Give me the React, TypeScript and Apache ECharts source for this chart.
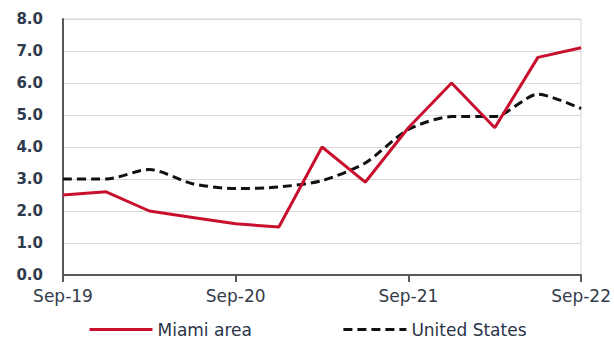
import React, { useEffect, useRef } from "react";
import * as echarts from "echarts";

// Quarterly observations, Sep-19 through Sep-22
const quarters = [
  "Sep-19", "Dec-19", "Mar-20", "Jun-20", "Sep-20", "Dec-20", "Mar-21",
  "Jun-21", "Sep-21", "Dec-21", "Mar-22", "Jun-22", "Sep-22",
];
const miami = [2.5, 2.6, 2.0, 1.8, 1.6, 1.5, 4.0, 2.9, 4.6, 6.0, 4.6, 6.8, 7.1];
const unitedStates = [3.0, 3.0, 3.3, 2.85, 2.7, 2.75, 2.95, 3.5, 4.55, 4.95, 4.95, 5.65, 5.2];
const yTicks = { min: 0, max: 8, step: 1 };

const FONT = "'DejaVu Sans', sans-serif";

export default function App() {
  const ref = useRef<HTMLDivElement>(null);

  useEffect(() => {
    if (!ref.current) return;
    const chart = echarts.init(ref.current, undefined, { renderer: "svg" });
    chart.setOption({
      animation: false,
      backgroundColor: "#ffffff",
      textStyle: { fontFamily: FONT },
      grid: { left: 63, right: 31, top: 19, bottom: 63, show: true, borderColor: "#d9d9d9", borderWidth: 1 },
      legend: {
        top: 321,
        left: 88,
        itemWidth: 63,
        itemHeight: 14,
        itemGap: 90,
        padding: 0,
        itemStyle: { opacity: 0 },
        lineStyle: { width: 3 },
        textStyle: { fontFamily: FONT, fontSize: 17, color: "#2a3447" },
        data: ["Miami area", "United States"],
      },
      xAxis: {
        type: "category",
        data: quarters,
        boundaryGap: false,
        axisLine: { show: true, lineStyle: { color: "#595959", width: 2 } },
        axisTick: { show: true, interval: 3, length: 7, lineStyle: { color: "#595959", width: 2 } },
        axisLabel: { interval: 3, fontSize: 17, color: "#333b4a", margin: 12, fontFamily: FONT },
        splitLine: { show: false },
      },
      yAxis: {
        type: "value",
        min: yTicks.min,
        max: yTicks.max,
        interval: yTicks.step,
        axisLine: { show: true, lineStyle: { color: "#595959", width: 2 } },
        axisTick: { show: false },
        axisLabel: {
          formatter: (v: number) => v.toFixed(1),
          fontSize: 15,
          fontWeight: "bold",
          color: "#2e3a4d",
          margin: 20,
          fontFamily: FONT,
        },
        splitLine: { lineStyle: { color: "#d9d9d9", width: 1 } },
      },
      series: [
        {
          name: "Miami area",
          type: "line",
          data: miami,
          showSymbol: false,
          symbol: "none",
          lineStyle: { color: "#c8102e", width: 3 },
          itemStyle: { color: "#c8102e" },
          z: 3,
        },
        {
          name: "United States",
          type: "line",
          data: unitedStates,
          smooth: 0.25,
          showSymbol: false,
          symbol: "none",
          lineStyle: { color: "#111111", width: 3, type: [9, 5] },
          itemStyle: { color: "#111111" },
          z: 2,
        },
      ],
    });
    return () => chart.dispose();
  }, []);

  return <div ref={ref} style={{ width: 614, height: 338, position: "absolute", left: 0, top: 0 }} />;
}
